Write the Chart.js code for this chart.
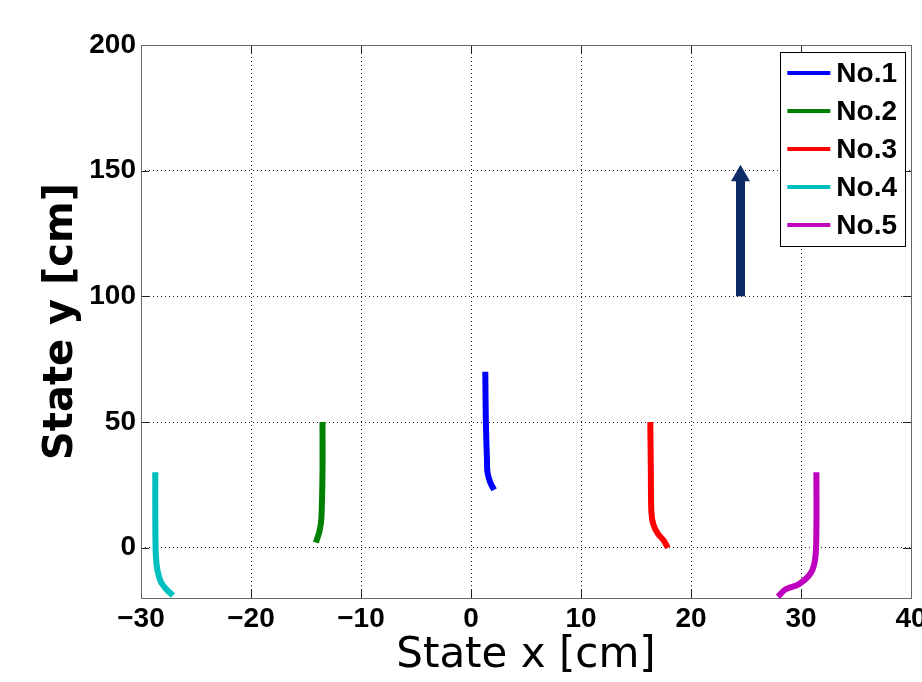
<!DOCTYPE html>
<html><head><meta charset="utf-8">
<script src="https://cdn.jsdelivr.net/npm/chart.js@4"></script>
<style>html,body{margin:0;padding:0;background:#fff}#wrap{width:922px;height:682px}</style>
</head><body><div id="wrap"><canvas id="c" width="922" height="682"></canvas></div>
<script>
const seriesLabels = ['No.1','No.2','No.3','No.4','No.5'];
const seriesColors = ['#0000ff','#008000','#ff0000','#00bfbf','#bf00bf'];
const no1X = [1.3, 1.35, 1.45, 1.5, 1.75, 2.1];
const no1Y = [70, 50, 35, 30, 26, 23];
const no2X = [-13.5, -13.5, -13.6, -13.75, -14.1];
const no2Y = [50, 30, 12, 7, 2];
const no3X = [16.3, 16.35, 16.4, 16.6, 17.0, 17.5, 17.9];
const no3Y = [50, 30, 14, 9, 5.5, 3, 0];
const no4X = [-28.7, -28.7, -28.65, -28.5, -28.2, -27.7, -27.1];
const no4Y = [30, 10, -3, -9, -13.5, -16.5, -19];
const no5X = [31.4, 31.4, 31.3, 30.9, 29.8, 28.6, 27.9];
const no5Y = [30, 7, -4, -10, -14.5, -16.5, -19.5];
const arrowX = [24.5, 24.5];
const arrowY = [100, 148];
const xTicks = [-30, -20, -10, 0, 10, 20, 30, 40];
const yTicks = [0, 50, 100, 150, 200];

const allX = [no1X, no2X, no3X, no4X, no5X];
const allY = [no1Y, no2Y, no3Y, no4Y, no5Y];
const toPts = (xs, ys) => xs.map((x, i) => ({x: x, y: ys[i]}));

const datasets = seriesLabels.map((lab, i) => ({
  label: lab,
  data: toPts(allX[i], allY[i]),
  borderColor: seriesColors[i],
  backgroundColor: seriesColors[i],
  borderWidth: 6,
  pointRadius: 0,
  tension: 0.3,
  borderCapStyle: 'butt',
  fill: false
}));
datasets.push({
  label: 'arrow',
  data: toPts(arrowX, arrowY),
  borderColor: '#0f2b66',
  backgroundColor: '#0f2b66',
  borderWidth: 9,
  pointRadius: [0, 11],
  pointStyle: 'triangle',
  pointBorderWidth: 0,
  tension: 0,
  fill: false
});

const tickFont = {family: '"Liberation Sans", Arial, sans-serif', size: 28, weight: 'bold'};

const boxPlugin = {
  id: 'boxPlugin',
  beforeDatasetsDraw(chart) {
    const {ctx, chartArea: a, scales} = chart;
    ctx.save();
    ctx.strokeStyle = '#222';
    ctx.lineWidth = 1;
    ctx.setLineDash([]);
    const tl = 8;
    ctx.beginPath();
    xTicks.forEach(v => {
      const px = Math.round(scales.x.getPixelForValue(v)) + 0.5;
      ctx.moveTo(px, a.bottom); ctx.lineTo(px, a.bottom - tl);
      ctx.moveTo(px, a.top); ctx.lineTo(px, a.top + tl);
    });
    yTicks.forEach(v => {
      const py = Math.round(scales.y.getPixelForValue(v)) + 0.5;
      ctx.moveTo(a.left, py); ctx.lineTo(a.left + tl, py);
      ctx.moveTo(a.right, py); ctx.lineTo(a.right - tl, py);
    });
    ctx.stroke();
    ctx.strokeStyle = '#666';
    ctx.strokeRect(Math.round(a.left) + 0.5, Math.round(a.top) + 0.5, Math.round(a.right - a.left), Math.round(a.bottom - a.top));
    ctx.restore();
  },
  afterDraw(chart) {
    const {ctx, chartArea: a} = chart;
    ctx.save();
    ctx.font = 'bold 28px "Liberation Sans", Arial, sans-serif';
    const right = a.right - 6, top = a.top + 7;
    const lineLen = 43, gap = 6, padL = 7, padR = 8, rowH = 38;
    let tw = 0;
    seriesLabels.forEach(l => { tw = Math.max(tw, ctx.measureText(l).width); });
    const w = padL + lineLen + gap + tw + padR;
    const h = rowH * seriesLabels.length + 4;
    const left = right - w;
    ctx.fillStyle = '#fff';
    ctx.fillRect(left, top, w, h);
    ctx.strokeStyle = '#000';
    ctx.lineWidth = 1;
    ctx.strokeRect(Math.round(left) + 0.5, Math.round(top) + 0.5, Math.round(w), Math.round(h));
    ctx.textBaseline = 'middle';
    seriesLabels.forEach((l, i) => {
      const cy = top + 21 + i * rowH;
      ctx.strokeStyle = seriesColors[i];
      ctx.lineWidth = 4;
      ctx.beginPath();
      ctx.moveTo(left + padL, cy); ctx.lineTo(left + padL + lineLen, cy);
      ctx.stroke();
      ctx.fillStyle = '#000';
      ctx.fillText(l, left + padL + lineLen + gap, cy + 1);
    });
    ctx.restore();
  }
};

new Chart(document.getElementById('c'), {
  type: 'line',
  data: {datasets},
  options: {
    responsive: false,
    animation: false,
    devicePixelRatio: 1,
    layout: {padding: {top: 45, right: 10, left: 0, bottom: 0}},
    plugins: {legend: {display: false}, tooltip: {enabled: false}},
    scales: {
      x: {
        type: 'linear', min: -30, max: 40,
        afterBuildTicks: s => { s.ticks = xTicks.map(v => ({value: v})); },
        afterFit: s => { s.height = 84; s.paddingLeft = 0; s.paddingRight = 0; },
        ticks: {font: tickFont, color: '#000', padding: 4, maxRotation: 0, autoSkip: false,
          callback: v => String(v).replace('-', '\u2212')},
        grid: {color: '#222', lineWidth: 1, drawTicks: false},
        border: {display: false, dash: [1, 3]},
        title: {display: true, text: 'State x [cm]', color: '#000',
          font: {family: '"DejaVu Sans", sans-serif', size: 42, weight: 'normal'},
          padding: {top: 0, bottom: 1}}
      },
      y: {
        type: 'linear', min: -20, max: 200,
        afterBuildTicks: s => { s.ticks = yTicks.map(v => ({value: v})); },
        afterFit: s => { s.width = 141; s.paddingTop = 0; s.paddingBottom = 0; },
        ticks: {font: tickFont, color: '#000', padding: 5, autoSkip: false},
        grid: {color: '#222', lineWidth: 1, drawTicks: false},
        border: {display: false, dash: [1, 3]},
        title: {display: true, text: 'State y [cm]', color: '#000',
          font: {family: '"DejaVu Sans", sans-serif', size: 40, weight: 'bold'},
          padding: {top: 38, bottom: 0}}
      }
    }
  },
  plugins: [boxPlugin]
});
</script></body></html>
